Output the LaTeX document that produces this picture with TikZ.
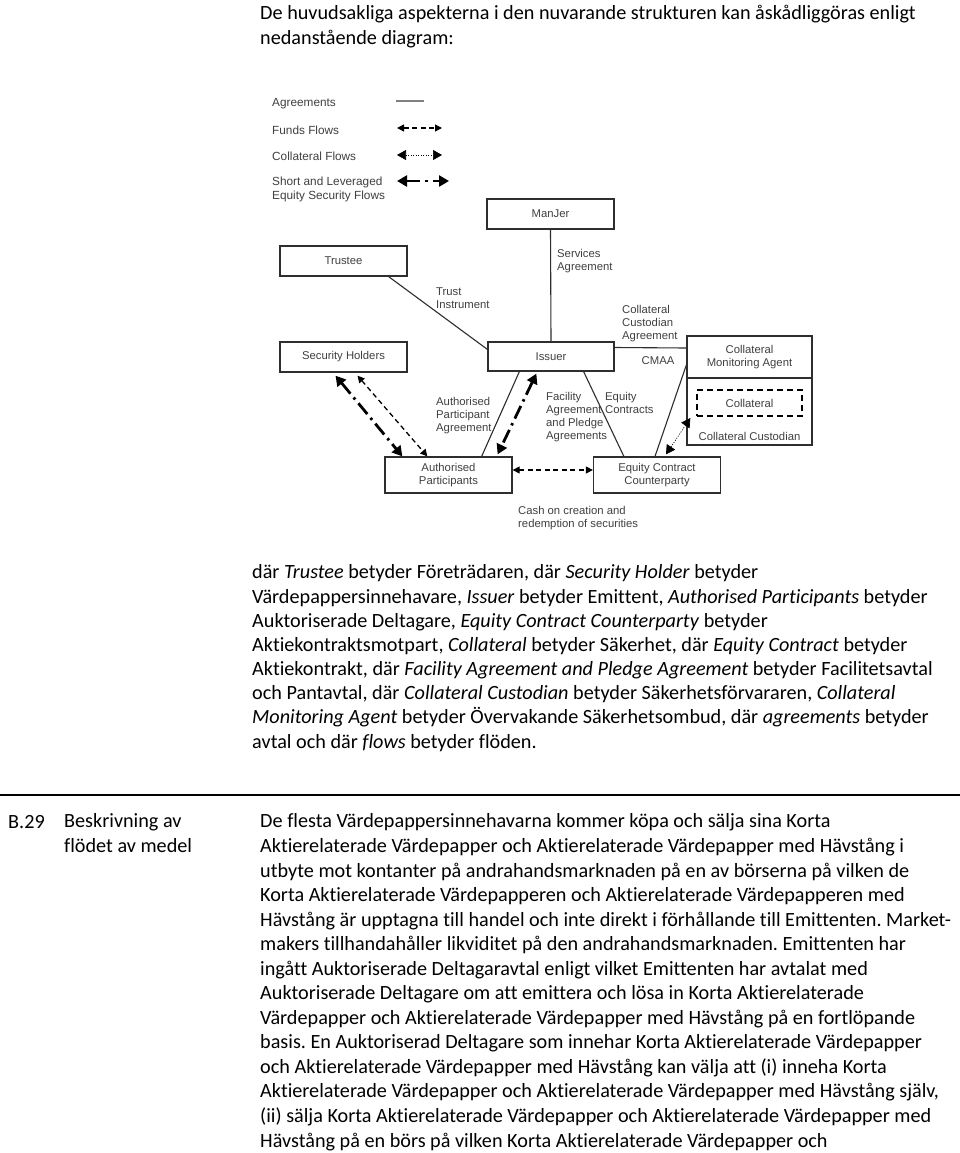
\documentclass[tikz,border=0pt]{standalone}
\usepackage{fontspec}
\setmainfont[Ligatures=NoCommon]{Carlito}
\newfontfamily\diagfont{Liberation Sans}
\usetikzlibrary{arrows.meta}
\frenchspacing

\definecolor{boxline}{HTML}{2E2E2E}
\definecolor{diagtext}{HTML}{404040}

\tikzset{
  party/.style={draw=boxline, line width=1.3pt, fill=white, text=diagtext,
    font={\diagfont\fontsize{11.3}{13}\selectfont}, align=center,
    minimum width=127pt, minimum height=30pt, inner sep=2pt},
  lbl/.style={text=diagtext, font={\diagfont\fontsize{11.3}{13}\selectfont},
    align=left, inner sep=0pt, anchor=west},
  agreement/.style={draw=boxline, line width=1.1pt},
  funds/.style={draw=black, line width=1.3pt, dash pattern=on 5pt off 3.5pt,
    {Triangle[length=7pt,width=7pt]}-{Triangle[length=7pt,width=7pt]}},
  collat/.style={draw=black, line width=0.7pt, dash pattern=on 1pt off 1.5pt,
    {Triangle[length=9pt,width=10pt]}-{Triangle[length=9pt,width=10pt]}},
  secflow/.style={draw=black, line width=2.8pt, dash pattern=on 14pt off 5pt on 2.5pt off 5pt,
    {Triangle[length=10pt,width=11pt]}-{Triangle[length=10pt,width=11pt]}},
  body/.style={font={\fontsize{20.2}{24.5}\selectfont}, align=left, inner sep=0pt, anchor=base west}
}

\begin{document}
\begin{tikzpicture}[x=1pt, y=-1pt]

\useasboundingbox[fill=white] (0,0) rectangle (960,1153);

\node [body] (intro) at (260,44.5) {De huvudsakliga aspekterna i den nuvarande strukturen kan åskådliggöras enligt\\
nedanstående diagram:};

% legend
\node [lbl, font={\diagfont\fontsize{11.8}{14}\selectfont}] (lg-agr) at (272,104) {Agreements};
\node [lbl, font={\diagfont\fontsize{11.8}{14}\selectfont}] (lg-funds) at (272,130) {Funds Flows};
\node [lbl, font={\diagfont\fontsize{11.8}{14}\selectfont}] (lg-coll) at (272,156) {Collateral Flows};
\node [lbl, font={\diagfont\fontsize{11.8}{14}\selectfont}] (lg-sec) at (272,189.5) {Short and Leveraged\\Equity Security Flows};

\coordinate (agr-l) at (396,101);
\coordinate (agr-r) at (424,101);
\coordinate (funds-l) at (397,128);
\coordinate (funds-r) at (442,128);
\coordinate (coll-l) at (397,155);
\coordinate (coll-r) at (442,155);
\coordinate (sec-l) at (397,181);
\coordinate (sec-r) at (449,181);

\draw [agreement, draw=gray] (agr-l) -- (agr-r);
\draw [funds] (funds-l) -- (funds-r);
\draw [collat] (coll-l) -- (coll-r);
\draw [secflow] (sec-l) -- (sec-r);

% parties
\node [party] (manjer) at (550.5,214) {ManJer};
\node [party] (trustee) at (343.5,261) {Trustee};
\node [party] (holders) at (343.5,357) {Security Holders};
\node [party, minimum width=126pt, minimum height=29pt] (issuer) at (551,356.5) {Issuer};
\node [party, minimum width=125pt, minimum height=67pt] (custodian) at (749.5,411.5) {};
\node [party, minimum width=125pt, minimum height=42pt] (cma) at (749.5,357) {Collateral\\Monitoring Agent};
\node [party, draw=black, line width=1.6pt, dash pattern=on 6pt off 4pt,
  minimum width=105pt, minimum height=26pt] (collateral) at (749.5,403) {Collateral};
\node [lbl, anchor=center] (custodian-name) at (749.5,436) {Collateral Custodian};
\node [party, minimum height=36pt] (ap) at (448.5,475) {Authorised\\Participants};
\node [party, minimum height=36pt] (ecc) at (657,475) {Equity Contract\\Counterparty};

% agreements
\draw [agreement] (manjer.south) -- (issuer.north);
\draw [agreement] ([xshift=-19pt]trustee.south east) -- ([yshift=-8pt]issuer.north west);
\draw [agreement] ([yshift=9pt]issuer.east) -- ([yshift=9pt]cma.west);
\draw [agreement] ([yshift=-8pt]cma.west) -- ([xshift=-2pt]ecc.north);
\draw [agreement] ([xshift=32pt]issuer.south west) -- ([xshift=-31pt]ap.north east);
\draw [agreement] ([xshift=-31pt]issuer.south east) -- ([xshift=31pt]ecc.north west);

\node [lbl] (trust-lbl) at (436,298) {Trust\\Instrument};
\node [lbl] (services-lbl) at (557,261.5) {Services\\Agreement};
\node [lbl] (cca-lbl) at (622,323.5) {Collateral\\Custodian\\Agreement};
\node [lbl, anchor=center] (cmaa-lbl) at (658,361) {CMAA};
\node [lbl] (apa-lbl) at (436,416) {Authorised\\Participant\\Agreement};
\node [lbl] (facility-lbl) at (546,417.5) {Facility\\Agreement\\and Pledge\\Agreements};
\node [lbl] (ec-lbl) at (605,402.5) {Equity\\Contracts};
\node [lbl] (cash-lbl) at (518,518.5) {Cash on creation and\\redemption of securities};

% flows
\draw [secflow] ([xshift=-8pt,yshift=-3pt]holders.south) -- ([xshift=18pt]ap.north west);
\draw [funds] ([xshift=14pt,yshift=-3pt]holders.south) -- ([xshift=43pt]ap.north west);
\draw [secflow] ([xshift=49pt,yshift=-2pt]issuer.south west) -- ([xshift=-15pt,yshift=2pt]ap.north east);
\draw [funds] ([yshift=5pt]ap.east) -- ([yshift=5pt]ecc.west);
\draw [collat] ([xshift=4pt,yshift=-6.5pt]custodian.west) -- ([xshift=9pt,yshift=2pt]ecc.north);

\node [body, font={\fontsize{20.2}{24.15}\selectfont}] (glossary) at (252,748) {där \textit{Trustee} betyder Företrädaren, där \textit{Security Holder} betyder\\
Värdepappersinnehavare, \textit{Issuer} betyder Emittent, \textit{Authorised Participants} betyder\\
Auktoriserade Deltagare, \textit{Equity Contract Counterparty} betyder\\
Aktiekontraktsmotpart, \textit{Collateral} betyder Säkerhet, där \textit{Equity Contract} betyder\\
Aktiekontrakt, där \textit{Facility Agreement and Pledge Agreement} betyder Facilitetsavtal\\
och Pantavtal, där \textit{Collateral Custodian} betyder Säkerhetsförvararen, \textit{Collateral}\\
\textit{Monitoring Agent} betyder Övervakande Säkerhetsombud, där \textit{agreements} betyder\\
avtal och där \textit{flows} betyder flöden.};

\coordinate (rule-l) at (0,795);
\coordinate (rule-r) at (960,795);
\draw [line width=2.2pt] (rule-l) -- (rule-r);

\node [body] (item-no) at (8,828) {B.29};
\node [body, font={\fontsize{20.2}{24.54}\selectfont}] (item-title) at (64,852.5) {Beskrivning av\\flödet av medel};
\node [body, font={\fontsize{20.2}{24.54}\selectfont}] (item-text) at (260,1147) {De flesta Värdepappersinnehavarna kommer köpa och sälja sina Korta\\
Aktierelaterade Värdepapper och Aktierelaterade Värdepapper med Hävstång i\\
utbyte mot kontanter på andrahandsmarknaden på en av börserna på vilken de\\
Korta Aktierelaterade Värdepapperen och Aktierelaterade Värdepapperen med\\
Hävstång är upptagna till handel och inte direkt i förhållande till Emittenten. Market-\\
makers tillhandahåller likviditet på den andrahandsmarknaden. Emittenten har\\
ingått Auktoriserade Deltagaravtal enligt vilket Emittenten har avtalat med\\
Auktoriserade Deltagare om att emittera och lösa in Korta Aktierelaterade\\
Värdepapper och Aktierelaterade Värdepapper med Hävstång på en fortlöpande\\
basis. En Auktoriserad Deltagare som innehar Korta Aktierelaterade Värdepapper\\
och Aktierelaterade Värdepapper med Hävstång kan välja att (i) inneha Korta\\
Aktierelaterade Värdepapper och Aktierelaterade Värdepapper med Hävstång själv,\\
(ii) sälja Korta Aktierelaterade Värdepapper och Aktierelaterade Värdepapper med\\
Hävstång på en börs på vilken Korta Aktierelaterade Värdepapper och};

\end{tikzpicture}
\end{document}
